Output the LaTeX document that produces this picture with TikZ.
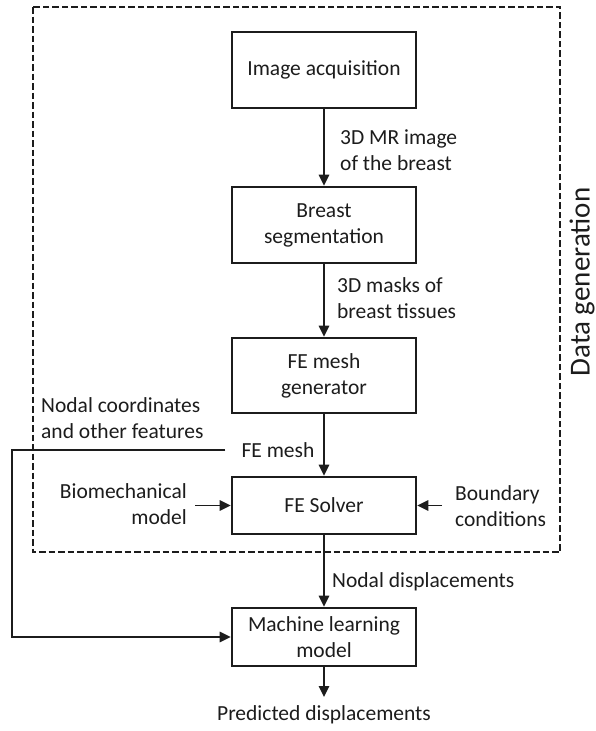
\documentclass[tikz,border=0pt]{standalone}
\usepackage{fontspec}
\setmainfont{Carlito}
\usetikzlibrary{arrows.meta}
\definecolor{ink}{RGB}{28,28,28}
\begin{document}
\begin{tikzpicture}[x=1pt,y=-1pt,
  every node/.style={text=ink},
  font=\fontsize{21.5}{26}\selectfont,
  proc/.style={draw=ink, line width=2.8pt, minimum width=184pt, align=center, inner sep=0pt},
  flow/.style={draw=ink, line width=1.6pt, -{Triangle[width=10.5pt,length=11pt]}},
  lbl/.style={inner sep=2pt},
  groupframe/.style={draw=ink, line width=2.8pt, dash pattern=on 6.5pt off 3pt}]

\useasboundingbox (0,0) rectangle (596,731);

% data generation frame
\draw[groupframe] (33,7) rectangle (560,552);
\node[rotate=90, font=\fontsize{29}{34}\selectfont] (dg) at (582,282) {Data generation};

% process boxes
\node[proc, minimum height=76pt] (ia)  at (324,70)    {Image acquisition};
\node[proc, minimum height=76pt] (bs)  at (324,225)   {Breast\\segmentation};
\node[proc, minimum height=75pt] (fem) at (324,375.5) {FE mesh\\generator};
\node[proc, minimum height=57pt] (fes) at (324,505.5) {FE Solver};
\node[proc, minimum height=58pt] (ml)  at (324,637)   {Machine learning\\model};

% labels
\node[lbl, anchor=west, align=left] (mr)   at (338,150) {3D MR image\\of the breast};
\node[lbl, anchor=west, align=left] (mask) at (335,298) {3D masks of\\breast tissues};
\node[lbl, anchor=west, align=left] (nc)   at (39,418)  {Nodal coordinates\\and other features};
\node[inner xsep=16pt, inner ysep=2pt] (fm) at (278,450) {FE mesh};
\node[anchor=east, align=right, inner xsep=8pt, inner ysep=2pt] (bio) at (195,504) {Biomechanical\\model};
\node[anchor=west, align=left, inner xsep=13pt, inner ysep=2pt] (bc) at (442,506) {Boundary\\conditions};
\node[lbl, anchor=west] (nd) at (330,582) {Nodal displacements};
\node[anchor=north, inner xsep=2pt, inner ysep=8pt] (pd) at (324,697) {Predicted displacements};

% connectors
\draw[flow] (ia) -- (bs);
\draw[flow] (bs) -- (fem);
\draw[flow] (fem) -- (fes);
\draw[flow] (fes) -- (ml);
\draw[flow] (ml) -- (pd);
\draw[flow] (bio.east |- fes.west) -- (fes.west);
\draw[flow] (bc.west |- fes.east) -- (fes.east);
\coordinate (bend) at (12,450);
\draw[flow] (fm.west) -- (bend) |- (ml.west);
\end{tikzpicture}
\end{document}
